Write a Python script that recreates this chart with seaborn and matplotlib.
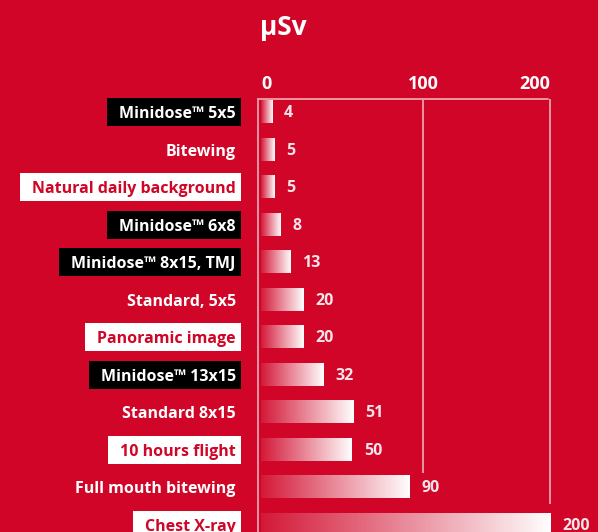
import numpy as np
import pandas as pd
import matplotlib
matplotlib.use("Agg")
import matplotlib.pyplot as plt
import seaborn as sns
from matplotlib.image import BboxImage
from matplotlib.transforms import TransformedBbox
from matplotlib.patches import Rectangle

# ---------------- data ----------------
labels = ["Minidose™ 5x5", "Bitewing", "Natural daily background", "Minidose™ 6x8",
          "Minidose™ 8x15, TMJ", "Standard, 5x5", "Panoramic image", "Minidose™ 13x15",
          "Standard 8x15", "10 hours flight", "Full mouth bitewing", "Chest X-ray"]
doses = [4, 5, 5, 8, 13, 20, 20, 32, 51, 50, 90, 200]
label_styles = ["black", "plain", "white", "black", "black", "plain", "white",
                "black", "plain", "white", "plain", "white"]
x_ticks = [0, 100, 200]
unit = "µSv"

# ---------------- style ----------------
RED = "#D00527"
GRID = "#EC95A3"
sns.set_style("white")
plt.rcParams["font.family"] = ["Open Sans", "DejaVu Sans"]
plt.rcParams["font.weight"] = "bold"

W, H = 598, 532
fig = plt.figure(figsize=(W / 100, H / 100), dpi=100, facecolor=RED)
ax = fig.add_axes([261 / W, 0, (W - 261) / W, (H - 99) / H])
ax.set_facecolor(RED)

df = pd.DataFrame({"label": labels, "dose": doses})
sns.barplot(data=df, x="dose", y="label", orient="h", width=0.59,
            color="white", saturation=1, ax=ax)

P = 0.835
ax.set_xscale("function", functions=(lambda v: np.sign(v) * np.abs(v) ** P,
                                     lambda u: np.sign(u) * np.abs(u) ** (1 / P)))
ax.set_xlim(0, 240.4)
ax.set_ylim(11.2, -0.347)
ax.set_xlabel("")
ax.set_ylabel("")

# gradient fill for the bars (transparent red -> white)
grad = np.zeros((1, 256, 4))
grad[..., :3] = 1.0
grad[..., 3] = np.linspace(0.08, 1.0, 256)
for p in ax.patches:
    p.set_facecolor("none")
    p.set_edgecolor("none")
    bb = TransformedBbox(p.get_bbox(), ax.transData)
    im = BboxImage(bb, interpolation="bilinear", origin="upper")
    im.set_data(grad)
    ax.add_artist(im)

# grid lines (stop above the long bars)
ax.vlines([100, 200], ymin=-0.347, ymax=[9.63, 10.45], colors=GRID, lw=1.4, zorder=0.5)

# spines
for s in ["top", "right", "bottom"]:
    ax.spines[s].set_visible(False)
ax.spines["left"].set_color(GRID)
ax.spines["left"].set_linewidth(1.4)
ax.spines["left"].set_position(("outward", 2.2))
ax.axhline(-0.347, xmin=-3 / (W - 261), xmax=(548 - 261) / (W - 261),
           color=GRID, lw=1.4, clip_on=False)

# x ticks on top
ax.xaxis.tick_top()
ax.set_xticks(x_ticks)
ax.set_xticklabels([str(t) for t in x_ticks])
ax.tick_params(axis="x", length=0, pad=4, labelsize=13, labelcolor="white")
for lab, ha in zip(ax.get_xticklabels(), ["left", "center", "right"]):
    lab.set_ha(ha)
    lab.set_fontweight("bold")

# y tick labels
ax.tick_params(axis="y", length=0, pad=16, labelsize=11.5)
for lab, st in zip(ax.get_yticklabels(), label_styles):
    lab.set_fontweight("bold")
    lab.set_color(RED if st == "white" else "white")

# value labels
for i, v in enumerate(doses):
    ax.annotate(str(v), xy=(v, i), xytext=(8.6, -1), textcoords="offset points",
                ha="left", va="center", fontsize=11.5, fontweight="bold",
                color="#F7E4E8", annotation_clip=False)

# title
fig.text(260 / W, 1 - 14 / H, unit, ha="left", va="top", fontsize=19,
         fontweight="bold", color="white")

# boxes behind some labels
fig.canvas.draw()
for i, (lab, st) in enumerate(zip(ax.get_yticklabels(), label_styles)):
    if st == "plain":
        continue
    bb = lab.get_window_extent()
    cy = ax.transData.transform((1, i))[1]
    x0 = bb.x0 - 12
    rect = Rectangle((x0 / W, (cy - 14) / H), (241 - x0) / W, 28 / H,
                     transform=fig.transFigure, facecolor="black" if st == "black" else "white",
                     edgecolor="none", zorder=-1)
    fig.add_artist(rect)

fig.savefig("out.png", dpi=100, facecolor=RED)
